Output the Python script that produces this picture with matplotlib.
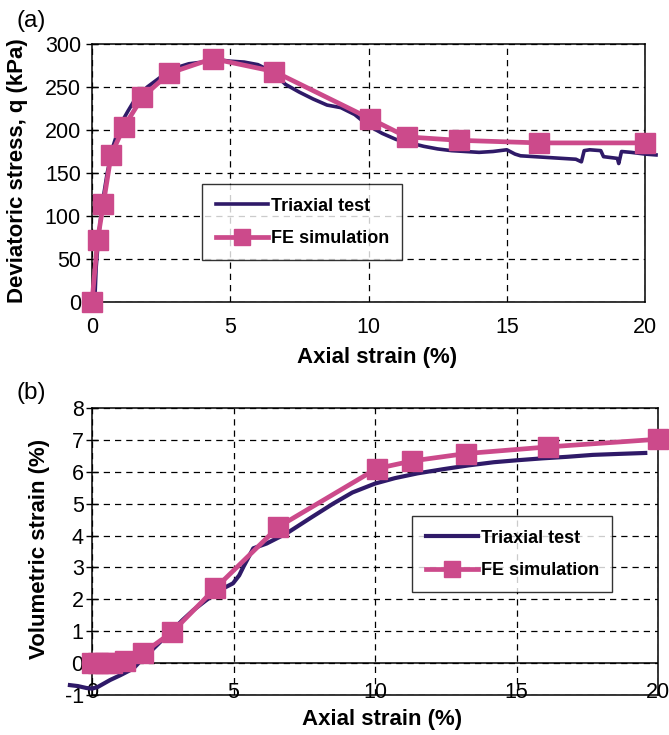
import matplotlib
matplotlib.use("Agg")
import matplotlib.pyplot as plt

plt.rcParams['font.family'] = ['Liberation Sans', 'DejaVu Sans']
plt.rcParams['axes.unicode_minus'] = False

# ---- (a) deviatoric stress vs axial strain ----
test_a_strain = [0.1, 0.15, 0.25, 0.4, 0.55, 0.75, 1.0, 1.3, 1.6, 2.0, 2.5, 3.0, 3.5, 4.0,
                 4.5, 5.0, 5.5, 6.0, 6.5, 7.0, 7.5, 8.0, 8.5, 9.0, 9.5, 10.0, 10.5, 11.0,
                 11.5, 12.0, 12.5, 13.0, 13.5, 14.0, 14.5, 15.0, 15.3, 15.5, 16.0, 16.5,
                 17.0, 17.5, 17.7, 17.8, 18.0, 18.4, 18.5, 19.0, 19.05, 19.15, 19.5, 20.0, 20.4]
test_a_q = [0, 40, 80, 120, 150, 180, 205, 222, 238, 250, 262, 272, 277, 279,
            282, 280, 279, 276, 268, 253, 244, 236, 229, 226, 218, 205, 196, 189,
            185, 181, 178, 176, 175, 174, 175, 177, 172, 170, 169, 168,
            167, 166, 163, 176, 177, 176, 169, 167, 161, 175, 174, 172, 171]

fe_a_strain = [0, 0.2, 0.41, 0.69, 1.16, 1.82, 2.79, 4.36, 6.59, 10.07, 11.38, 13.27, 16.17, 20.0]
fe_a_q = [0, 72, 114, 171, 204, 238, 266, 283, 268, 213, 192, 188, 185, 185]

# ---- (b) volumetric strain vs axial strain ----
test_b_strain = [-0.78, -0.5, -0.2, 0.0, 0.2, 0.4, 0.64, 1.0, 1.46, 1.8, 2.05, 2.45, 2.84,
                 3.2, 3.58, 4.0, 4.52, 4.98, 5.2, 5.35, 5.7, 6.17, 6.88, 7.7, 8.52, 9.2,
                 10.0, 10.7, 11.5, 12.4, 13.3, 14.2, 15.0, 15.9, 16.8, 17.7, 18.6, 19.55]
test_b_vol = [-0.69, -0.72, -0.78, -0.8, -0.75, -0.65, -0.53, -0.38, -0.17, 0.15, 0.35, 0.7, 1.03,
              1.35, 1.66, 1.95, 2.29, 2.5, 2.75, 3.02, 3.6, 3.75, 4.07, 4.54, 5.0, 5.35,
              5.63, 5.8, 5.95, 6.08, 6.2, 6.3, 6.36, 6.42, 6.47, 6.53, 6.56, 6.59]

fe_b_strain = [0, 0.2, 0.45, 0.7, 1.16, 1.8, 2.84, 4.35, 6.58, 10.06, 11.32, 13.2, 16.12, 20.0]
fe_b_vol = [0, 0, 0, 0.01, 0.06, 0.31, 0.98, 2.34, 4.27, 6.1, 6.34, 6.57, 6.78, 7.02]

x_ticks = [0, 5, 10, 15, 20]
q_ticks = [0, 50, 100, 150, 200, 250, 300]
vol_ticks = [-1, 0, 1, 2, 3, 4, 5, 6, 7, 8]

NAVY = '#2f1a68'
PINK = '#cc4a8b'
label_font = dict(fontsize=16, fontweight='bold')
tick_size = 15.5

fig = plt.figure(figsize=(6.69, 7.35), dpi=100)
W, H = 669, 735


def axes_px(l, t, r, b):
    return fig.add_axes([l / W, 1 - b / H, (r - l) / W, (b - t) / H])


def style(ax):
    ax.grid(True, color='black', linestyle=(0, (5, 4)), linewidth=0.9)
    ax.set_axisbelow(True)
    for s in ax.spines.values():
        s.set_linewidth(1.1)
        s.set_color('black')
    ax.tick_params(axis='both', labelsize=tick_size, direction='inout', length=8,
                   width=1, color='black')


def add_legend(ax, anchor):
    leg = ax.legend(loc='upper left', bbox_to_anchor=anchor,
                    prop=dict(size=13, weight='bold'), frameon=True, fancybox=False,
                    edgecolor='black', borderpad=0.75, handlelength=2.9, handletextpad=0.15,
                    labelspacing=0.85, borderaxespad=0)
    leg.get_frame().set_linewidth(1.0)
    leg.legend_handles[1].set_markersize(12)
    return leg


# Panel (a)
ax1 = axes_px(92, 44, 645, 302)
style(ax1)
ax1.plot(test_a_strain, test_a_q, color=NAVY, lw=2.6, label='Triaxial test',
         clip_on=False, zorder=3)
ax1.plot(fe_a_strain, fe_a_q, color=PINK, lw=3.4, marker='s', ms=14,
         mec=PINK, mfc=PINK, label='FE simulation', clip_on=False, zorder=4)
ax1.set_xlim(0, 20)
ax1.set_ylim(0, 300)
ax1.set_xticks(x_ticks)
ax1.set_yticks(q_ticks)
ax1.tick_params(axis='x', length=0, pad=11)
ax1.tick_params(axis='y', pad=4)
add_legend(ax1, ((202 - 92) / 553, 1 - (184 - 44) / 258))

# Panel (b)
ax2 = axes_px(92, 408, 658, 695)
style(ax2)
ax2.axhline(0, color='black', lw=1.1, zorder=2)
ax2.plot(test_b_strain, test_b_vol, color=NAVY, lw=3.0, label='Triaxial test',
         clip_on=False, zorder=3)
ax2.plot(fe_b_strain, fe_b_vol, color=PINK, lw=3.4, marker='s', ms=14,
         mec=PINK, mfc=PINK, label='FE simulation', clip_on=False, zorder=4)
ax2.set_xlim(0, 20)
ax2.set_ylim(-1, 8)
ax2.set_xticks(x_ticks)
ax2.set_yticks(vol_ticks)
ax2.tick_params(axis='x', length=0, pad=-9)
ax2.tick_params(axis='y', pad=2)
add_legend(ax2, ((412 - 92) / 566, 1 - (516 - 408) / 287))

# Axis titles and panel letters
fig.text(17.5 / W, 1 - 171 / H, 'Deviatoric stress, q (kPa)', rotation=90,
         ha='center', va='center', **label_font)
fig.text(377 / W, 1 - 357 / H, 'Axial strain (%)', ha='center', va='center', **label_font)
fig.text(40 / W, 1 - 549 / H, 'Volumetric strain (%)', rotation=90,
         ha='center', va='center', **label_font)
fig.text(382 / W, 1 - 719 / H, 'Axial strain (%)', ha='center', va='center', **label_font)
fig.text(31 / W, 1 - 21 / H, '(a)', ha='center', va='center', fontsize=17.5)
fig.text(31 / W, 1 - 393 / H, '(b)', ha='center', va='center', fontsize=17.5)

fig.savefig('out.png', dpi=100)
